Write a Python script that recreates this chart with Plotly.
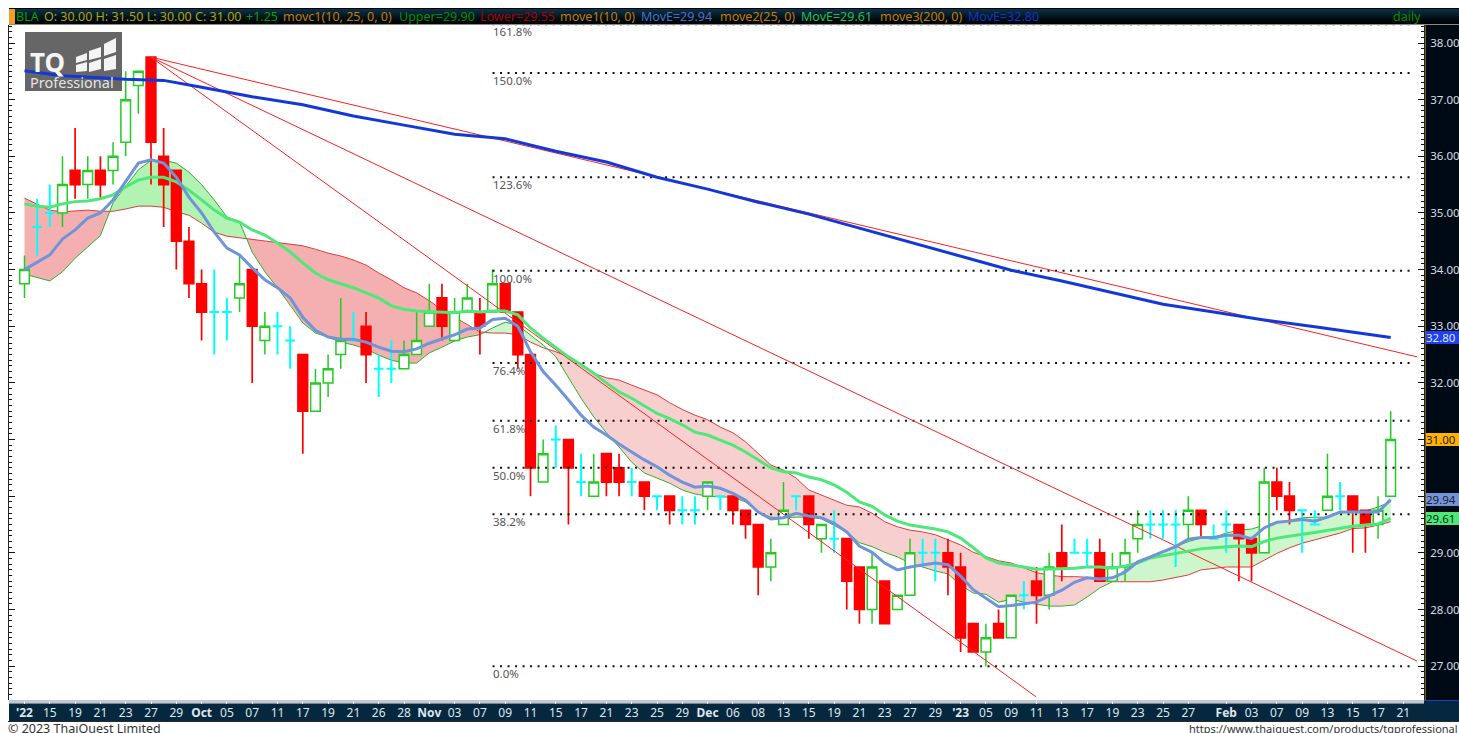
import plotly.graph_objects as go

W, H = 1459, 733
# ---- chart data ----
opens = [33.75,34.75,35,35,35.75,35.5,35.75,35.75,36.25,37.25,37.75,36,35.75,34.5,33.75,33.25,33.25,33.5,34,32.75,33,32.75,32.5,31.5,32,32.5,32.75,33,32.25,32.25,32.25,32.5,33,33.5,32.75,33.25,33.25,33.25,33.75,33.25,32.5,30.25,31,31,30.25,30,30.75,30.5,30.25,30.25,30,30,29.75,29.75,30,30,30,29.75,29.5,28.75,29.5,30,30,29.25,29.25,29.25,28.75,28,28.5,28,28.25,29,29,29,28.75,27.75,27.25,27.75,27.5,28.25,28.5,28.25,29,29,29,29,28.5,28.75,29.25,29.5,29.5,29.5,29.5,29.75,29.25,29.5,29.5,29.25,29,30.25,30,29.75,29.5,29.75,30,30,29.75,29.5,30]
highs = [34.25,35.25,35.5,36,36.5,36,36,36.25,37.5,37.5,37.75,36.5,35.75,34.75,34,34,33.5,34.25,34,33.25,33.25,33,32.5,32.25,32.5,33.5,33.25,33.25,32.5,32.75,32.75,33.25,33.75,33.75,33.5,33.75,33.5,34,33.75,33.25,32.5,31,31.25,31,30.75,30.75,30.75,30.75,30.5,30.25,30,30,30,30,30.25,30,30,29.75,29.5,29.25,30.25,30,30,29.5,29.75,29.25,28.75,29,28.5,28.25,29.25,29.25,29.25,29.25,29,27.75,27.75,28,28.25,28.5,28.75,29,29.5,29.25,29.25,29.25,29,29.25,29.75,29.75,29.75,29.75,30,29.75,29.5,29.75,29.5,29.25,30.5,30.5,30.25,29.75,29.75,30.75,30.25,30,29.75,30,31.5]
lows = [33.5,34.25,34.75,34.75,35.25,35.25,35.25,35.5,36,36.75,35.5,34.75,34,33.5,32.75,32.5,32.75,33.25,32,32.5,32.5,32.25,30.75,31.5,31.75,32.25,32.75,32,31.75,32,32.25,32.5,33,32.75,32.75,33.25,32.5,33.25,33.25,32.25,30,30.25,30.5,29.5,30,30,30,30,30,29.75,29.75,29.5,29.5,29.5,29.75,29.75,29.5,29.25,28.25,28.5,29.5,29.75,29.25,29,29,28,27.75,27.75,27.75,28,28.25,28.75,28.5,28.25,27.25,27.25,27,27.5,27.5,28,27.75,28,28.5,29,28.75,28.5,28.5,28.5,29,29.25,29.25,28.75,29.25,29.25,29.25,29,28.5,28.5,29,29.75,29.5,29,29.5,29.75,29.75,29,29,29.25,30]
closes = [34,34.75,35,35.5,35.5,35.75,35.5,36,37,37.5,36.25,35.5,34.5,33.75,33.25,33.25,33.25,33.75,33,33,33,32.75,31.5,32,32.25,32.75,32.75,32.5,32.25,32.25,32.5,32.75,33.25,33,33.25,33.5,33,33.75,33.25,32.5,30.5,30.75,31,30.5,30.25,30.25,30.25,30.25,30.25,30,30,29.75,29.75,29.75,30.25,30,29.75,29.5,28.75,29,29.75,30,29.5,29.5,29.25,28.5,28,28.75,27.75,28.25,29,29,29,28.75,27.5,27.25,27.5,27.5,28.25,28.25,28.25,28.75,28.75,29,29,28.5,28.75,29,29.5,29.5,29.5,29.5,29.75,29.5,29.25,29.5,29.25,29,30.25,30,29.75,29.75,29.5,30,30,29.75,29.5,29.75,31]

move1_ema10 = [34.0,34.13,34.26,34.54,34.70,34.91,35.0,35.23,35.55,35.88,35.94,35.88,35.63,35.28,35.0,34.66,34.38,34.26,34.03,33.82,33.68,33.5,33.16,32.93,32.81,32.77,32.77,32.72,32.63,32.56,32.55,32.6,32.70,32.77,32.85,32.95,32.97,33.12,33.14,33.0,32.55,32.2,31.96,31.70,31.43,31.22,31.08,30.92,30.78,30.64,30.52,30.37,30.25,30.16,30.18,30.14,30.05,29.93,29.72,29.6,29.62,29.7,29.65,29.62,29.52,29.37,29.12,29.01,28.82,28.7,28.75,28.79,28.82,28.79,28.59,28.35,28.2,28.05,28.07,28.1,28.13,28.24,28.34,28.48,28.56,28.54,28.56,28.66,28.84,28.93,29.02,29.11,29.24,29.27,29.27,29.31,29.31,29.25,29.44,29.54,29.56,29.59,29.56,29.63,29.72,29.72,29.72,29.72,29.94]
move2_ema25 = [35.16,35.12,35.10,35.16,35.2,35.21,35.25,35.32,35.46,35.58,35.63,35.63,35.55,35.4,35.23,35.05,34.91,34.84,34.7,34.61,34.47,34.31,34.12,33.94,33.82,33.75,33.68,33.59,33.5,33.36,33.3,33.27,33.26,33.24,33.24,33.27,33.25,33.27,33.27,33.2,32.97,32.79,32.62,32.46,32.32,32.17,32.0,31.84,31.73,31.59,31.46,31.37,31.26,31.13,31.08,30.99,30.9,30.78,30.64,30.5,30.43,30.41,30.34,30.29,30.2,30.07,29.9,29.82,29.67,29.56,29.49,29.46,29.42,29.37,29.26,29.09,28.91,28.82,28.79,28.75,28.71,28.71,28.72,28.73,28.75,28.75,28.73,28.77,28.82,28.91,28.95,28.98,29.03,29.07,29.09,29.11,29.12,29.11,29.2,29.26,29.3,29.33,29.36,29.4,29.44,29.47,29.49,29.51,29.61]
band_upper = [33.92,33.86,33.8,33.96,34.2,34.4,34.6,35.18,35.46,35.76,35.93,35.93,35.88,35.72,35.5,35.23,34.93,34.84,34.31,33.96,33.68,33.38,33.06,32.88,32.81,32.72,32.67,32.6,32.49,32.4,32.35,32.35,32.53,32.63,32.74,32.81,32.85,32.97,33.07,33.02,32.85,32.67,32.46,32.1,31.73,31.4,31.12,30.87,30.6,30.41,30.32,30.23,30.11,30.04,30.0,29.99,29.98,29.9,29.72,29.63,29.62,29.63,29.63,29.6,29.49,29.37,29.18,29.11,29.01,28.93,28.82,28.75,28.68,28.63,28.43,28.29,28.27,28.13,28.18,28.13,28.1,28.06,28.06,28.08,28.22,28.38,28.49,28.7,28.82,28.93,29.02,29.11,29.2,29.26,29.27,29.35,29.4,29.42,29.49,29.53,29.58,29.62,29.63,29.63,29.72,29.74,29.74,29.81,29.90]
band_lower = [35.26,35.16,35.05,35.02,35.03,35.05,35.03,35.03,35.07,35.12,35.12,35.1,35.02,34.96,34.82,34.66,34.59,34.56,34.54,34.5,34.47,34.45,34.42,34.36,34.29,34.24,34.17,34.08,33.94,33.82,33.68,33.59,33.45,33.29,33.16,33.02,32.9,32.88,32.88,32.85,32.72,32.62,32.55,32.46,32.32,32.17,32.09,32.05,31.96,31.87,31.79,31.65,31.53,31.43,31.35,31.22,31.12,30.96,30.76,30.55,30.46,30.32,30.11,30.02,29.93,29.84,29.81,29.7,29.55,29.46,29.4,29.37,29.32,29.23,29.14,29.01,28.93,28.86,28.82,28.73,28.65,28.61,28.58,28.58,28.57,28.52,28.49,28.49,28.49,28.49,28.52,28.56,28.61,28.7,28.73,28.75,28.75,28.75,28.87,28.99,29.09,29.17,29.23,29.29,29.35,29.43,29.44,29.49,29.55]
move3_idx = [0,3,8,11,14,18,22,26,30,34,38,42,46,50,54,58,62,66,70,74,78,82,86,90,94,98,102,106,108]
move3_ema200 = [37.51,37.42,37.36,37.34,37.22,37.05,36.91,36.71,36.55,36.39,36.31,36.09,35.90,35.63,35.42,35.19,34.98,34.73,34.49,34.24,33.99,33.80,33.59,33.39,33.25,33.11,32.99,32.86,32.80]

fib_pct = ["161.8%","150.0%","123.6%","100.0%","76.4%","61.8%","50.0%","38.2%","0.0%"]
fib_price = [38.33,37.47,35.63,33.98,32.35,31.33,30.5,29.68,27.0]
fib_x = [37, 109.8]

trend_x = [[10,110.08],[10,110.08],[10,79.96]]
trend_y = [[37.75,32.46],[37.75,27.09],[37.75,26.46]]

tick_idx = list(range(0,93,2)) + [95,97,99,101,103,105,107,109]
tick_text = ["<b>'22</b>","15","19","21","23","27","29","<b>Oct</b>","05","07","11","17","19","21","26","28","<b>Nov</b>","03","07","09","11","15","17","21","23","25","29","<b>Dec</b>","06","08","13","15","19","21","23","27","29","<b>'23</b>","05","09","11","13","17","19","23","25","27","<b>Feb</b>","03","07","09","13","15","17","21"]
price_ticks = [27,28,29,30,31,32,33,34,35,36,37,38]
price_text = ["27.00","28.00","29.00","","","32.00","33.00","34.00","35.00","36.00","37.00","38.00"]
badges = [("32.80",32.80,"#1f3ff0","#dfe8ff"),("31.00",31.00,"#ffb300","#222222"),("29.94",29.94,"#7594d8","#1a2030"),("29.61",29.61,"#4ee87a","#0b2a10")]

header = [("BLA","#00a000",16),("O: 30.00 H: 31.50 L: 30.00 C: 31.00","#b5a400",44),("+1.25","#00a000",246),
          ("movc1(10, 25, 0, 0)","#c47c00",283),("Upper=29.90","#009000",399),("Lower=29.55","#a80000",480),
          ("move1(10, 0)","#c47c00",560),("MovE=29.94","#4a72c4",641),("move2(25, 0)","#c47c00",720),
          ("MovE=29.61","#12c455",801),("move3(200, 0)","#c47c00",880),("MovE=32.80","#1236c8",968),("daily","#009000",1393)]

n = len(closes)
for a in (opens, highs, lows, closes, move1_ema10, move2_ema25, band_upper, band_lower):
    assert len(a) == n, len(a)
assert len(tick_idx) == len(tick_text)

ML, MR, MT, MB = 9, 35, 25, 33
PW, PH = W-ML-MR, H-MT-MB
PXU = 12.65; PYU = 56.65
xr = [(ML-24.5)/PXU, (W-MR-24.5)/PXU]
yr = [38-(H-MB-43)/PYU, 38+(43-MT)/PYU]
px = lambda x: (x-ML)/PW
py = lambda y: 1-(y-MT)/PH
pv = lambda p: (p-yr[0])/(yr[1]-yr[0])

FONT = "Noto Sans"
fig = go.Figure()

# cloud fill, split where the two band edges cross
def cloud():
    segs, cur = [], []
    sign = None
    for i in range(n):
        s = band_upper[i] >= band_lower[i]
        if sign is not None and s != sign:
            d0 = band_upper[i-1]-band_lower[i-1]; d1 = band_upper[i]-band_lower[i]
            t = d0/(d0-d1)
            cx = i-1+t; cy = band_upper[i-1]+t*(band_upper[i]-band_upper[i-1])
            cur.append((cx,cy,cy))
            segs.append((sign,cur)); cur = [(cx,cy,cy)]
        cur.append((i,band_upper[i],band_lower[i]))
        sign = s
    segs.append((sign,cur))
    return segs
for s, pts in cloud():
    early = pts[0][0] < 36
    col = ("#b2f2b2" if early else "#cdf6cd") if s else ("#f4b0b0" if early else "#f8cfcf")
    xs = [p[0] for p in pts]+[p[0] for p in reversed(pts)]
    ys = [p[1] for p in pts]+[p[2] for p in reversed(pts)]
    fig.add_trace(go.Scatter(x=xs,y=ys,fill="toself",fillcolor=col,mode="lines",line=dict(width=0),hoverinfo="skip",showlegend=False))

idx = list(range(n))
fig.add_trace(go.Scatter(x=idx,y=band_lower,mode="lines",line=dict(color="#e23a3a",width=1),name="Lower"))
fig.add_trace(go.Scatter(x=idx,y=band_upper,mode="lines",line=dict(color="#2eb02e",width=1),name="Upper"))

OV = dict(xaxis="x2",yaxis="y2")
# candles split by direction, on the overlay axes so they sit above the cloud
def candle(sel, line, fill, width):
    fig.add_trace(go.Candlestick(
        x=[i for i in idx if sel(i)],
        open=[opens[i] for i in idx if sel(i)], high=[highs[i] for i in idx if sel(i)],
        low=[lows[i] for i in idx if sel(i)], close=[closes[i] for i in idx if sel(i)],
        increasing=dict(line=dict(color=line,width=width),fillcolor=fill),
        decreasing=dict(line=dict(color=line,width=width),fillcolor=fill),
        whiskerwidth=0, **OV))
candle(lambda i: closes[i]>opens[i], "#22cc22", "#ffffff", 1.5)
candle(lambda i: closes[i]<opens[i], "#ff0000", "#ff0000", 1.7)
candle(lambda i: closes[i]==opens[i], "#00ffff", "#00ffff", 2)

for p in fib_price:
    fig.add_trace(go.Scatter(x=fib_x,y=[p,p],mode="lines",line=dict(color="#111111",width=2,dash="2px,5.5px"),hoverinfo="skip",**OV))
for tx, ty in zip(trend_x, trend_y):
    fig.add_trace(go.Scatter(x=tx,y=ty,mode="lines",line=dict(color="#ff2020",width=1),hoverinfo="skip",**OV))

fig.add_trace(go.Scatter(x=idx,y=move2_ema25,mode="lines",line=dict(color="#4ee87a",width=3),name="move2",**OV))
fig.add_trace(go.Scatter(x=idx,y=move1_ema10,mode="lines",line=dict(color="#7094d8",width=3),name="move1",**OV))
fig.add_trace(go.Scatter(x=move3_idx,y=move3_ema200,mode="lines",line=dict(color="#1238d8",width=3),name="move3",**OV))

shapes = []
def rect(x0,y0,x1,y1,col):
    shapes.append(dict(type="rect",xref="paper",yref="paper",x0=px(x0),x1=px(x1),y0=py(y1),y1=py(y0),fillcolor=col,line=dict(width=0),layer="below"))
def poly(pts,col):
    d = "M "+" L ".join(f"{px(a):.5f},{py(b):.5f}" for a,b in pts)+" Z"
    shapes.append(dict(type="path",xref="paper",yref="paper",path=d,fillcolor=col,line=dict(width=0),layer="below"))

# header gradient
rect(9,8,W,9,"#000000")
grad = ["#0b2f47","#0a2b41","#09283c","#082536","#072130","#061d2a","#051925","#04151f","#03111a","#020e15","#020b10","#01080c","#010609","#010406","#000304"]
for k,c in enumerate(grad):
    rect(9,9+k,W,10+k,c)
rect(9,24,W,25,"#8a8a8a")
rect(9,9,15,24,"#f0a020")
# right panel
rect(1424,25,W,701,"#000a14")
rect(1424.5,25,1425.5,701,"#e2b23c")
# bottom bar
rect(9,700,1424,703.5,"#c4c8cc")
rect(9,703.5,1424,721,"#06283f")
rect(1424,701,W,721,"#06283f")
rect(1425,700,W,701,"#1a3cd0")
rect(8,721,W,722,"#2a2a2a")
# logo
rect(25,32,122,91,"#666666")
for pg in ([(76,57),(87,53),(87,60),(76,63)],[(76,65),(87,62),(87,71),(76,72)],
           [(89,51),(101,47),(101,57),(89,60)],[(89,63),(101,59),(101,69),(89,72)],
           [(104,44),(116,38),(116,52),(104,56)],[(104,59),(116,55),(116,69),(104,71)]):
    poly(pg,"#f4f4f4")

A0 = dict(showarrow=False,borderpad=0,borderwidth=0)
ann = []
for t,c,x in header:
    ann.append(dict(text=t,x=px(x),y=py(16.5),xref="paper",yref="paper",xanchor="left",yanchor="middle",font=dict(family=FONT,size=12.5,color=c),**A0))
for t,p in zip(fib_pct,fib_price):
    ann.append(dict(text=t,x=px(493),y=pv(p),xref="paper",yref="paper",xanchor="left",yanchor="middle",yshift=-7.5,font=dict(family=FONT,size=11.5,color="#555555"),**A0))
for t,p,bg,fg in badges:
    ann.append(dict(text=t,x=px(1426),y=pv(p),xref="paper",yref="paper",xanchor="left",yanchor="middle",width=33,height=13,align="left",bgcolor=bg,font=dict(family=FONT,size=11.5,color=fg),**A0))
ann.append(dict(text="<b>TQ</b>",x=px(30),y=py(62),xref="paper",yref="paper",xanchor="left",yanchor="middle",font=dict(family=FONT,size=26,color="#f4f4f4"),**A0))
ann.append(dict(text="Professional",x=px(30),y=py(82),xref="paper",yref="paper",xanchor="left",yanchor="middle",font=dict(family=FONT,size=14.5,color="#e4e4e4"),**A0))
ann.append(dict(text="© 2023 ThaiQuest Limited",x=px(8),y=py(724),xref="paper",yref="paper",xanchor="left",yanchor="top",font=dict(family=FONT,size=12.5,color="#333333"),height=9,**A0))
ann.append(dict(text="https://www.thaiquest.com/products/tqprofessional",x=px(1458),y=py(724),xref="paper",yref="paper",xanchor="right",yanchor="top",font=dict(family=FONT,size=11,color="#333333"),height=9,**A0))

fig.update_layout(
    width=W,height=H,margin=dict(l=ML,r=MR,t=MT,b=MB,autoexpand=False),
    paper_bgcolor="#ffffff",plot_bgcolor="rgba(0,0,0,0)",showlegend=False,boxgap=0.24,boxgroupgap=0,shapes=shapes,annotations=ann,
    hovermode=False,
    xaxis=dict(range=xr,rangeslider=dict(visible=False),tickmode="array",tickvals=tick_idx,ticktext=tick_text,
               showgrid=False,zeroline=False,ticks="outside",ticklen=3,tickcolor="#f0f0f0",tickwidth=1,
               tickangle=0,tickfont=dict(family=FONT,size=12,color="#dfe6ec"),ticklabelstandoff=-1,showline=False),
    yaxis=dict(range=yr,side="right",tickmode="array",tickvals=price_ticks,ticktext=price_text,showgrid=False,zeroline=False,
               ticks="inside",ticklen=6,tickcolor="#111111",tickwidth=1,mirror="allticks",showline=True,linecolor="#222222",linewidth=1,
               minor=dict(tick0=27,dtick=0.1,ticks="inside",ticklen=3,tickcolor="#111111",tickwidth=1),
               tickfont=dict(family=FONT,size=11.5,color="#d4deea"),ticklabelstandoff=3),
    xaxis2=dict(overlaying="x",anchor="y2",range=xr,visible=False,rangeslider=dict(visible=False)),
    yaxis2=dict(overlaying="y",anchor="x2",range=yr,visible=False),
)
fig.write_html("out.html",config=dict(displayModeBar=False),post_script="document.body.style.margin='0';document.body.style.overflow='hidden';")
